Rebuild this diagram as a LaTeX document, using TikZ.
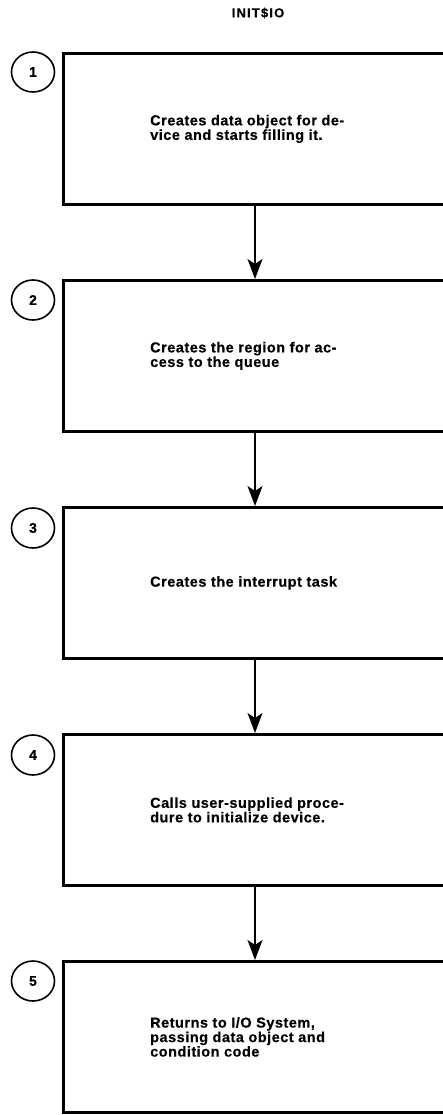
\documentclass[tikz,border=0pt]{standalone}
\usepackage{fontspec}
\setmainfont{Liberation Sans}
\usetikzlibrary{arrows.meta,shapes.geometric}
\begin{document}
\begin{tikzpicture}[x=1pt,y=-1pt,
  stepbox/.style={draw, line width=2.8pt, minimum width=390pt, minimum height=151pt, anchor=north west, inner sep=0pt},
  numcirc/.style={draw, ellipse, line width=1.6pt, minimum width=43pt, minimum height=40pt, inner sep=0pt,
    font=\bfseries\fontsize{14}{15}\selectfont\addfontfeature{FakeBold=0.4}},
  txt/.style={anchor=west, align=left, inner sep=0pt,
    font=\bfseries\fontsize{14.5}{14.5}\selectfont\addfontfeature{LetterSpace=3.5,FakeBold=0.4}},
  ttl/.style={inner sep=0pt, font=\bfseries\fontsize{13}{14}\selectfont\addfontfeature{LetterSpace=9,FakeBold=0.4}},
  arr/.style={-{Stealth[length=20pt,width=15pt,inset=5pt]}, line width=1.9pt}]
\useasboundingbox (0,0) rectangle (443,1115);
\clip (0,0) rectangle (443,1115);
\coordinate (ax) at (255,0);
\coordinate (tx) at (150,0);

\node[ttl] (title) at (258,13) {INIT\$IO};

\node[stepbox] (b1) at (62,52) {};
\node[stepbox] (b2) at (62,279) {};
\node[stepbox] (b3) at (62,506) {};
\node[stepbox] (b4) at (62,733) {};
\node[stepbox] (b5) at (62,960) {};

\node[numcirc] (c1) at (33,72) {1};
\node[numcirc] (c2) at (33,300) {2};
\node[numcirc] (c3) at (33,528) {3};
\node[numcirc] (c4) at (33,755) {4};
\node[numcirc] (c5) at (33,981) {5};

\node[txt] (t1) at (b1.west -| tx) {Creates data object for de-\\vice and starts filling it.};
\node[txt] (t2) at (b2.west -| tx) {Creates the region for ac-\\cess to the queue};
\node[txt] (t3) at (b3.west -| tx) {Creates the interrupt task};
\node[txt] (t4) at (b4.west -| tx) {Calls user-supplied proce-\\dure to initialize device.};
\node[txt] (t5) at (b5.west -| tx) {Returns to I/O System,\\passing data object and\\condition code};

\draw[arr] (b1.south -| ax) -- (b2.north -| ax);
\draw[arr] (b2.south -| ax) -- (b3.north -| ax);
\draw[arr] (b3.south -| ax) -- (b4.north -| ax);
\draw[arr] (b4.south -| ax) -- (b5.north -| ax);
\end{tikzpicture}
\end{document}
